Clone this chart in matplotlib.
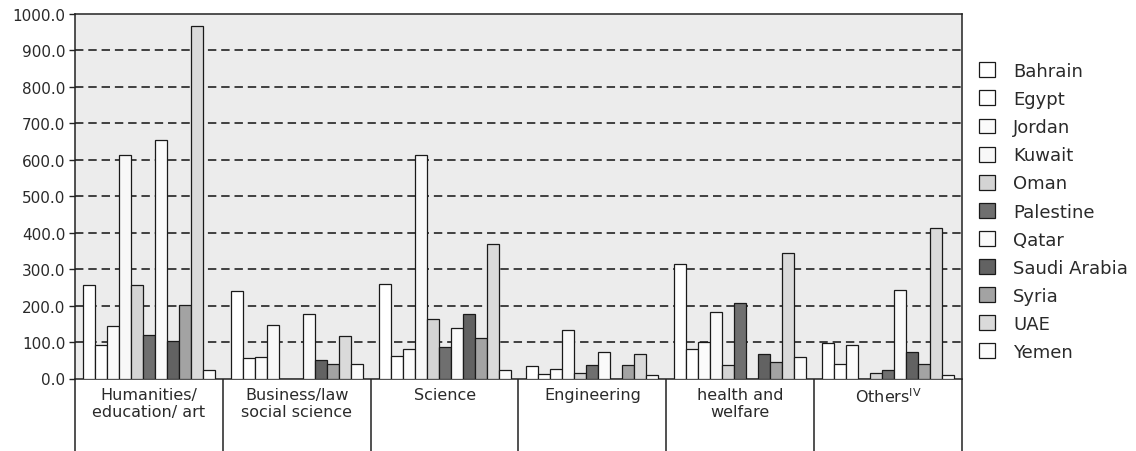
import numpy as np
import matplotlib
matplotlib.use('Agg')
import matplotlib.pyplot as plt

# fields of study (x groups)
fields = ['Humanities/\neducation/ art', 'Business/law\nsocial science', 'Science',
          'Engineering', 'health and\nwelfare', r'Others$^{\mathrm{IV}}$']

countries = ['Bahrain', 'Egypt', 'Jordan', 'Kuwait', 'Oman', 'Palestine',
             'Qatar', 'Saudi Arabia', 'Syria', 'UAE', 'Yemen']

bahrain = [257, 239, 258, 34, 313, 97]
egypt = [91, 55, 61, 11, 81, 40]
jordan = [143, 59, 82, 27, 100, 93]
kuwait = [612, 146, 612, 132, 183, 0]
oman = [257, 0, 164, 16, 38, 16]
palestine = [119, 0, 87, 37, 207, 23]
qatar = [655, 176, 139, 73, 0, 244]
saudi = [104, 51, 176, 0, 68, 72]
syria = [202, 39, 110, 38, 46, 39]
uae = [967, 117, 370, 66, 343, 414]
yemen = [23, 39, 23, 9, 58, 9]

series = [bahrain, egypt, jordan, kuwait, oman, palestine,
          qatar, saudi, syria, uae, yemen]
colors = ['#ffffff', '#ffffff', '#fbfbfb', '#f8f8f8', '#d4d4d4', '#6f6f6f',
          '#fafafa', '#626262', '#a3a3a3', '#dadada', '#fbfbfb']

yticks = np.arange(0, 1001, 100)

fig = plt.figure(figsize=(11.36, 4.52), dpi=100)
ax = fig.add_axes([75/1136, 1 - 379.5/452, 887/1136, 364.5/452])
ax.set_facecolor('#ececec')

x = np.arange(len(fields))
w = 0.0811
start = -0.5 + 0.054
for i, (name, vals, c) in enumerate(zip(countries, series, colors)):
    ax.bar(x + start + i*w, vals, width=w, align='edge', color=c,
           edgecolor='#1a1a1a', linewidth=0.9, label=name, zorder=3)

ax.set_xlim(-0.5, 5.5)
ax.set_ylim(0, 1000)
ax.set_yticks(yticks)
ax.set_yticklabels(['%.1f' % v for v in yticks], fontsize=11, color='#2a2a2a')
ax.tick_params(axis='y', direction='out', length=4, width=1, colors='#222222',
               labelcolor='#2a2a2a', pad=3)
ax.set_xticks([])

# dashed horizontal grid
for v in yticks[1:-1]:
    ax.axhline(v, color='#111111', linewidth=1.1, dashes=(5.5, 3.2), zorder=2)

for s in ax.spines.values():
    s.set_color('#222222')
    s.set_linewidth(1.1)

# category table below the axis
trans = ax.get_xaxis_transform()
ax.vlines(np.arange(-0.5, 6.0, 1.0), -0.2, 0, transform=trans, colors='#222222',
          linewidth=1.1, clip_on=False)
for xi, lab in zip(x, fields):
    ax.text(xi, -0.022, lab, transform=trans, ha='center', va='top',
            fontsize=11.5, color='#2a2a2a', linespacing=1.2)

fig.legend(loc='upper left', bbox_to_anchor=(979/1136, 1 - 63/452), frameon=False,
           fontsize=13, handlelength=0.9, handleheight=0.9, handletextpad=1.0,
           labelspacing=0.56, borderpad=0, borderaxespad=0, labelcolor='#2a2a2a')

fig.savefig('out.png', dpi=100)
